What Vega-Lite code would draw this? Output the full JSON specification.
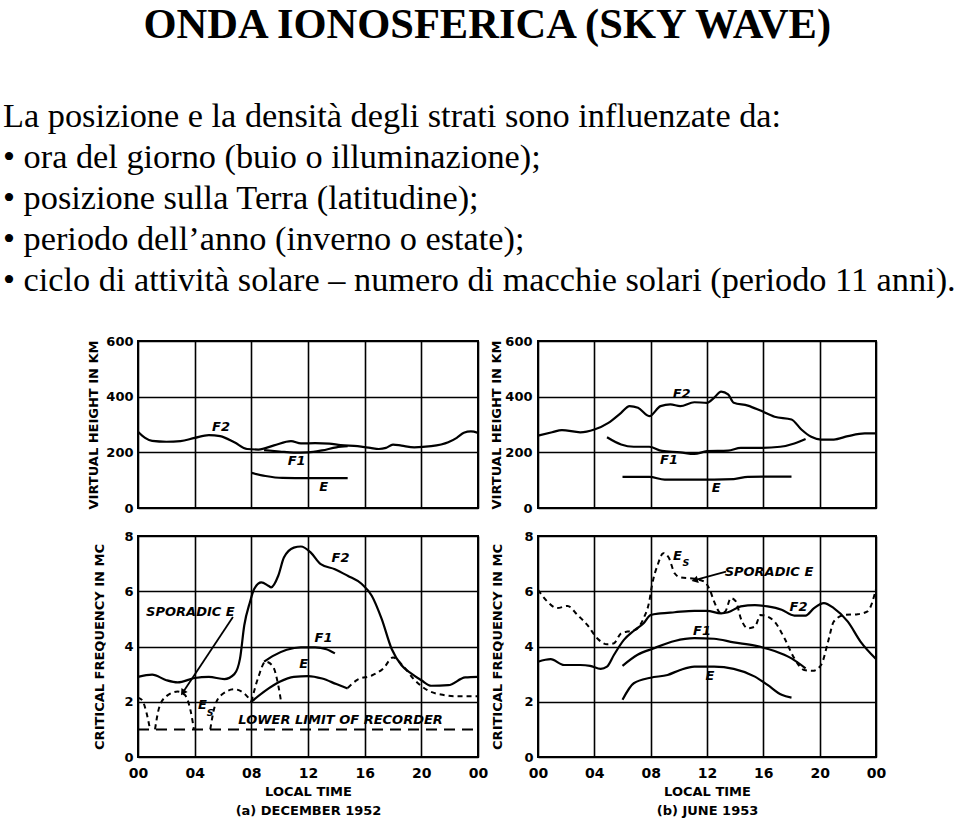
{
  "$schema": "https://vega.github.io/schema/vega-lite/v6.json",
  "padding": {"left": 2, "top": 4, "right": 0, "bottom": 0},
  "background": "white",
  "title": {"text": "ONDA IONOSFERICA (SKY WAVE)", "anchor": "middle", "frame": "bounds", "font": "Liberation Serif", "fontSize": 42.5, "fontWeight": "bold", "color": "black", "offset": 52, "dx": 8},
  "columns": 2,
  "spacing": {"row": 28, "column": 60},
  "bounds": "flush",
  "concat": [
    {
      "width": 340, "height": 167,
      "title": {"text": ["La posizione e la densità degli strati sono influenzate da:", "• ora del giorno (buio o illuminazione);", "• posizione sulla Terra (latitudine);", "• periodo dell’anno (inverno o estate);", "• ciclo di attività solare – numero di macchie solari (periodo 11 anni)."], "anchor": "start", "frame": "group", "dx": -135, "font": "Liberation Serif", "fontSize": 34.3, "fontWeight": "normal", "lineHeight": 41, "offset": 37, "color": "black"},
      "encoding": {
        "x": {"field": "h", "type": "quantitative", "scale": {"domain": [0, 24], "nice": false}, "axis": {"values": [0, 4, 8, 12, 16, 20, 24], "labels": false, "title": null}},
        "y": {"field": "v", "type": "quantitative", "scale": {"domain": [0, 600], "nice": false}, "axis": {"values": [0, 200, 400, 600], "title": "VIRTUAL HEIGHT IN KM", "labelPadding": 5, "titlePadding": 5}}
      },
      "layer": [
        {"data": {"name": "tl"}, "mark": {"type": "line", "interpolate": "monotone", "color": "black", "strokeWidth": 2.2}, "encoding": {"detail": {"field": "s"}}},
        {"data": {"name": "tlLab"}, "mark": {"type": "text", "font": "DejaVu Sans", "fontStyle": "italic", "fontWeight": "bold", "fontSize": 13, "color": "black", "align": "center", "baseline": "middle"}, "encoding": {"text": {"field": "t"}}}
      ]
    },
    {
      "width": 338, "height": 167,
      "encoding": {
        "x": {"field": "h", "type": "quantitative", "scale": {"domain": [0, 24], "nice": false}, "axis": {"values": [0, 4, 8, 12, 16, 20, 24], "labels": false, "title": null}},
        "y": {"field": "v", "type": "quantitative", "scale": {"domain": [0, 600], "nice": false}, "axis": {"values": [0, 200, 400, 600], "title": "VIRTUAL HEIGHT IN KM", "labelPadding": 6, "titlePadding": 1}}
      },
      "layer": [
        {"data": {"name": "tr"}, "mark": {"type": "line", "interpolate": "monotone", "color": "black", "strokeWidth": 2.2}, "encoding": {"detail": {"field": "s"}}},
        {"data": {"name": "trLab"}, "mark": {"type": "text", "font": "DejaVu Sans", "fontStyle": "italic", "fontWeight": "bold", "fontSize": 13, "color": "black", "align": "center", "baseline": "middle"}, "encoding": {"text": {"field": "t"}}}
      ]
    },
    {
      "width": 340, "height": 221,
      "encoding": {
        "x": {"field": "h", "type": "quantitative", "scale": {"domain": [0, 24], "nice": false}, "axis": {"values": [0, 4, 8, 12, 16, 20, 24], "labelExpr": "datum.value == 24 ? '00' : (datum.value < 10 ? '0' + datum.value : '' + datum.value)", "labelFontSize": 14, "labelPadding": 9, "title": ["LOCAL TIME", "(a) DECEMBER 1952"], "titleFontSize": 13, "titlePadding": 5, "titleLineHeight": 19}},
        "y": {"field": "v", "type": "quantitative", "scale": {"domain": [0, 8], "nice": false}, "axis": {"values": [0, 2, 4, 6, 8], "title": "CRITICAL FREQUENCY IN MC", "labelPadding": 5, "titlePadding": 17}}
      },
      "layer": [
        {"data": {"name": "bl"}, "transform": [{"filter": "datum.s != 'Es' && datum.s != 'LL'"}], "mark": {"type": "line", "interpolate": "monotone", "color": "black", "strokeWidth": 2.2}, "encoding": {"detail": {"field": "s"}}},
        {"data": {"name": "bl"}, "transform": [{"filter": "datum.s == 'Es'"}], "mark": {"type": "line", "interpolate": "monotone", "color": "black", "strokeWidth": 2, "strokeDash": [5, 4]}, "encoding": {"detail": {"field": "g"}}},
        {"data": {"name": "bl"}, "transform": [{"filter": "datum.s == 'LL'"}], "mark": {"type": "line", "color": "black", "strokeWidth": 2, "strokeDash": [11, 7]}, "encoding": {"detail": {"field": "s"}}},
        {"data": {"name": "blLab"}, "mark": {"type": "text", "font": "DejaVu Sans", "fontStyle": "italic", "fontWeight": "bold", "fontSize": 13, "color": "black", "align": "center", "baseline": "middle"}, "encoding": {"text": {"field": "t"}}},
        {"data": {"name": "blSub"}, "mark": {"type": "text", "font": "DejaVu Sans", "fontStyle": "italic", "fontWeight": "bold", "fontSize": 9.5, "color": "black", "align": "center", "baseline": "middle"}, "encoding": {"text": {"field": "t"}}},
        {"data": {"name": "blArrow"}, "mark": {"type": "rule", "color": "black", "strokeWidth": 1.8}, "encoding": {"x2": {"field": "h2"}, "y2": {"field": "v2"}}},
        {"data": {"name": "blArrow"}, "mark": {"type": "point", "shape": "triangle", "filled": true, "color": "black", "opacity": 1, "size": 55, "angle": 213.6}, "encoding": {"x": {"field": "h2", "type": "quantitative"}, "y": {"field": "v2", "type": "quantitative"}}}
      ]
    },
    {
      "width": 338, "height": 221,
      "encoding": {
        "x": {"field": "h", "type": "quantitative", "scale": {"domain": [0, 24], "nice": false}, "axis": {"values": [0, 4, 8, 12, 16, 20, 24], "labelExpr": "datum.value == 24 ? '00' : (datum.value < 10 ? '0' + datum.value : '' + datum.value)", "labelFontSize": 14, "labelPadding": 9, "title": ["LOCAL TIME", "(b) JUNE 1953"], "titleFontSize": 13, "titlePadding": 5, "titleLineHeight": 19}},
        "y": {"field": "v", "type": "quantitative", "scale": {"domain": [0, 8], "nice": false}, "axis": {"values": [0, 2, 4, 6, 8], "title": "CRITICAL FREQUENCY IN MC", "labelPadding": 5, "titlePadding": 19}}
      },
      "layer": [
        {"data": {"name": "br"}, "transform": [{"filter": "datum.s != 'Es'"}], "mark": {"type": "line", "interpolate": "monotone", "color": "black", "strokeWidth": 2.2}, "encoding": {"detail": {"field": "s"}}},
        {"data": {"name": "br"}, "transform": [{"filter": "datum.s == 'Es'"}], "mark": {"type": "line", "interpolate": "monotone", "color": "black", "strokeWidth": 2, "strokeDash": [5, 4]}, "encoding": {"detail": {"field": "s"}}},
        {"data": {"name": "brLab"}, "mark": {"type": "text", "font": "DejaVu Sans", "fontStyle": "italic", "fontWeight": "bold", "fontSize": 13, "color": "black", "align": "center", "baseline": "middle"}, "encoding": {"text": {"field": "t"}}},
        {"data": {"name": "brSub"}, "mark": {"type": "text", "font": "DejaVu Sans", "fontStyle": "italic", "fontWeight": "bold", "fontSize": 9.5, "color": "black", "align": "center", "baseline": "middle"}, "encoding": {"text": {"field": "t"}}},
        {"data": {"name": "brArrow"}, "mark": {"type": "rule", "color": "black", "strokeWidth": 1.8}, "encoding": {"x2": {"field": "h2"}, "y2": {"field": "v2"}}},
        {"data": {"name": "brArrow"}, "mark": {"type": "point", "shape": "triangle", "filled": true, "color": "black", "opacity": 1, "size": 55, "angle": 254.7}, "encoding": {"x": {"field": "h2", "type": "quantitative"}, "y": {"field": "v2", "type": "quantitative"}}}
      ]
    }
  ],
  "config": {
    "view": {"stroke": "black", "strokeWidth": 2},
    "axis": {"grid": true, "gridColor": "black", "gridOpacity": 1, "gridWidth": 1.6, "domain": false, "ticks": false, "labelFont": "DejaVu Sans", "labelFontWeight": "bold", "labelFontSize": 13, "labelColor": "black", "titleFont": "DejaVu Sans", "titleFontWeight": "bold", "titleFontSize": 13, "titleColor": "black", "labelOverlap": false, "labelFlush": false}
  },
  "datasets": {
    "tl": [
      {"s": "F2", "h": 0, "v": 274}, {"s": "F2", "h": 0.5, "v": 252}, {"s": "F2", "h": 1, "v": 241}, {"s": "F2", "h": 2, "v": 238}, {"s": "F2", "h": 3, "v": 240}, {"s": "F2", "h": 4, "v": 252}, {"s": "F2", "h": 5, "v": 262}, {"s": "F2", "h": 5.8, "v": 258}, {"s": "F2", "h": 6.8, "v": 236}, {"s": "F2", "h": 7.7, "v": 212}, {"s": "F2", "h": 8.5, "v": 210}, {"s": "F2", "h": 9.6, "v": 225}, {"s": "F2", "h": 10.8, "v": 240}, {"s": "F2", "h": 11.5, "v": 232}, {"s": "F2", "h": 12.5, "v": 233}, {"s": "F2", "h": 13.5, "v": 231}, {"s": "F2", "h": 14.3, "v": 226}, {"s": "F2", "h": 15.5, "v": 222}, {"s": "F2", "h": 16.4, "v": 216}, {"s": "F2", "h": 17, "v": 212}, {"s": "F2", "h": 17.5, "v": 216}, {"s": "F2", "h": 18, "v": 228}, {"s": "F2", "h": 18.6, "v": 224}, {"s": "F2", "h": 19.5, "v": 218}, {"s": "F2", "h": 20.7, "v": 222}, {"s": "F2", "h": 21.9, "v": 236}, {"s": "F2", "h": 22.5, "v": 252}, {"s": "F2", "h": 23, "v": 270}, {"s": "F2", "h": 23.5, "v": 275}, {"s": "F2", "h": 24, "v": 270},
      {"s": "F1", "h": 8.9, "v": 208}, {"s": "F1", "h": 10, "v": 203}, {"s": "F1", "h": 11, "v": 199}, {"s": "F1", "h": 12, "v": 200}, {"s": "F1", "h": 13, "v": 207}, {"s": "F1", "h": 14, "v": 218}, {"s": "F1", "h": 14.8, "v": 222},
      {"s": "E", "h": 8, "v": 126}, {"s": "E", "h": 9, "v": 115}, {"s": "E", "h": 10.2, "v": 108}, {"s": "E", "h": 12, "v": 107}, {"s": "E", "h": 14.8, "v": 107}
    ],
    "tlLab": [
      {"t": "F2", "h": 5.86, "v": 291}, {"t": "F1", "h": 11.2, "v": 169}, {"t": "E", "h": 13.1, "v": 75}
    ],
    "tr": [
      {"s": "F2", "h": 0, "v": 260}, {"s": "F2", "h": 1, "v": 272}, {"s": "F2", "h": 1.7, "v": 280}, {"s": "F2", "h": 3, "v": 272}, {"s": "F2", "h": 4, "v": 282}, {"s": "F2", "h": 5, "v": 306}, {"s": "F2", "h": 5.9, "v": 342}, {"s": "F2", "h": 6.5, "v": 366}, {"s": "F2", "h": 7.1, "v": 360}, {"s": "F2", "h": 7.9, "v": 330}, {"s": "F2", "h": 8.7, "v": 366}, {"s": "F2", "h": 9.4, "v": 372}, {"s": "F2", "h": 10.1, "v": 366}, {"s": "F2", "h": 11.1, "v": 380}, {"s": "F2", "h": 12, "v": 378}, {"s": "F2", "h": 12.5, "v": 396}, {"s": "F2", "h": 13, "v": 418}, {"s": "F2", "h": 13.5, "v": 408}, {"s": "F2", "h": 13.9, "v": 378}, {"s": "F2", "h": 14.9, "v": 368}, {"s": "F2", "h": 15.8, "v": 350}, {"s": "F2", "h": 16.8, "v": 328}, {"s": "F2", "h": 18, "v": 318}, {"s": "F2", "h": 18.7, "v": 282}, {"s": "F2", "h": 19.4, "v": 256}, {"s": "F2", "h": 20.1, "v": 246}, {"s": "F2", "h": 21, "v": 246}, {"s": "F2", "h": 22, "v": 258}, {"s": "F2", "h": 23.2, "v": 268}, {"s": "F2", "h": 24, "v": 268},
      {"s": "F1", "h": 4.9, "v": 254}, {"s": "F1", "h": 5.9, "v": 228}, {"s": "F1", "h": 6.8, "v": 220}, {"s": "F1", "h": 7.9, "v": 220}, {"s": "F1", "h": 8.8, "v": 205}, {"s": "F1", "h": 10.1, "v": 200}, {"s": "F1", "h": 11.1, "v": 194}, {"s": "F1", "h": 12, "v": 204}, {"s": "F1", "h": 13.5, "v": 206}, {"s": "F1", "h": 14.4, "v": 216}, {"s": "F1", "h": 15.8, "v": 216}, {"s": "F1", "h": 17.2, "v": 220}, {"s": "F1", "h": 18.2, "v": 232}, {"s": "F1", "h": 19, "v": 248},
      {"s": "E", "h": 6, "v": 112}, {"s": "E", "h": 7.9, "v": 112}, {"s": "E", "h": 9, "v": 102}, {"s": "E", "h": 11.1, "v": 102}, {"s": "E", "h": 13.9, "v": 104}, {"s": "E", "h": 14.9, "v": 112}, {"s": "E", "h": 18, "v": 113}
    ],
    "trLab": [
      {"t": "F2", "h": 10.2, "v": 410}, {"t": "F1", "h": 9.3, "v": 172}, {"t": "E", "h": 12.65, "v": 72}
    ],
    "bl": [
      {"s": "F2", "h": 0, "v": 2.9}, {"s": "F2", "h": 1, "v": 2.98}, {"s": "F2", "h": 2, "v": 2.78}, {"s": "F2", "h": 2.8, "v": 2.7}, {"s": "F2", "h": 4, "v": 2.86}, {"s": "F2", "h": 5, "v": 2.9}, {"s": "F2", "h": 6.1, "v": 2.82}, {"s": "F2", "h": 6.8, "v": 3.0}, {"s": "F2", "h": 7.2, "v": 3.56}, {"s": "F2", "h": 7.5, "v": 4.76}, {"s": "F2", "h": 7.9, "v": 5.6}, {"s": "F2", "h": 8.2, "v": 6.08}, {"s": "F2", "h": 8.7, "v": 6.32}, {"s": "F2", "h": 9.2, "v": 6.2}, {"s": "F2", "h": 9.4, "v": 6.14}, {"s": "F2", "h": 9.9, "v": 6.56}, {"s": "F2", "h": 10.3, "v": 7.22}, {"s": "F2", "h": 11, "v": 7.58}, {"s": "F2", "h": 11.5, "v": 7.62}, {"s": "F2", "h": 12.2, "v": 7.4}, {"s": "F2", "h": 12.9, "v": 6.98}, {"s": "F2", "h": 13.9, "v": 6.8}, {"s": "F2", "h": 14.8, "v": 6.56}, {"s": "F2", "h": 15.8, "v": 6.26}, {"s": "F2", "h": 16.5, "v": 5.84}, {"s": "F2", "h": 17.2, "v": 5.0}, {"s": "F2", "h": 17.9, "v": 3.92}, {"s": "F2", "h": 18.6, "v": 3.32}, {"s": "F2", "h": 19.3, "v": 3.02}, {"s": "F2", "h": 20, "v": 2.78}, {"s": "F2", "h": 20.7, "v": 2.58}, {"s": "F2", "h": 21.9, "v": 2.6}, {"s": "F2", "h": 23.1, "v": 2.88}, {"s": "F2", "h": 24, "v": 2.9},
      {"s": "F1", "h": 8.9, "v": 3.45}, {"s": "F1", "h": 9.5, "v": 3.65}, {"s": "F1", "h": 10.5, "v": 3.88}, {"s": "F1", "h": 11.5, "v": 3.97}, {"s": "F1", "h": 12.5, "v": 3.97}, {"s": "F1", "h": 13.3, "v": 3.9}, {"s": "F1", "h": 13.9, "v": 3.75},
      {"s": "E", "h": 8, "v": 2.0}, {"s": "E", "h": 9, "v": 2.4}, {"s": "E", "h": 10, "v": 2.72}, {"s": "E", "h": 11, "v": 2.9}, {"s": "E", "h": 12, "v": 2.93}, {"s": "E", "h": 13, "v": 2.84}, {"s": "E", "h": 14, "v": 2.64}, {"s": "E", "h": 14.8, "v": 2.48},
      {"s": "Es", "g": 1, "h": 0, "v": 2.15}, {"s": "Es", "g": 1, "h": 0.3, "v": 2.05}, {"s": "Es", "g": 1, "h": 0.6, "v": 1.6}, {"s": "Es", "g": 1, "h": 0.85, "v": 1.0},
      {"s": "Es", "g": 2, "h": 1.2, "v": 1.0}, {"s": "Es", "g": 2, "h": 1.5, "v": 1.8}, {"s": "Es", "g": 2, "h": 2.0, "v": 2.2}, {"s": "Es", "g": 2, "h": 2.8, "v": 2.37}, {"s": "Es", "g": 2, "h": 3.3, "v": 2.25}, {"s": "Es", "g": 2, "h": 3.7, "v": 1.7}, {"s": "Es", "g": 2, "h": 3.95, "v": 1.0},
      {"s": "Es", "g": 3, "h": 5.1, "v": 1.0}, {"s": "Es", "g": 3, "h": 5.4, "v": 1.8}, {"s": "Es", "g": 3, "h": 5.9, "v": 2.25}, {"s": "Es", "g": 3, "h": 6.8, "v": 2.45}, {"s": "Es", "g": 3, "h": 7.5, "v": 2.3}, {"s": "Es", "g": 3, "h": 8.0, "v": 2.0},
      {"s": "Es", "g": 4, "h": 8.0, "v": 2.0}, {"s": "Es", "g": 4, "h": 8.5, "v": 2.9}, {"s": "Es", "g": 4, "h": 9.0, "v": 3.45}, {"s": "Es", "g": 4, "h": 9.5, "v": 3.3}, {"s": "Es", "g": 4, "h": 9.9, "v": 2.6}, {"s": "Es", "g": 4, "h": 10.1, "v": 2.0},
      {"s": "Es", "g": 5, "h": 14.8, "v": 2.5}, {"s": "Es", "g": 5, "h": 15.5, "v": 2.8}, {"s": "Es", "g": 5, "h": 16.5, "v": 2.95}, {"s": "Es", "g": 5, "h": 17.3, "v": 3.2}, {"s": "Es", "g": 5, "h": 18.0, "v": 3.6}, {"s": "Es", "g": 5, "h": 18.7, "v": 3.3}, {"s": "Es", "g": 5, "h": 19.5, "v": 2.8}, {"s": "Es", "g": 5, "h": 20.5, "v": 2.4}, {"s": "Es", "g": 5, "h": 21.5, "v": 2.25}, {"s": "Es", "g": 5, "h": 22.5, "v": 2.2}, {"s": "Es", "g": 5, "h": 24, "v": 2.2},
      {"s": "LL", "h": 0, "v": 1.0}, {"s": "LL", "h": 24, "v": 1.0}
    ],
    "blLab": [
      {"t": "F2", "h": 14.3, "v": 7.2}, {"t": "F1", "h": 13.1, "v": 4.3}, {"t": "E", "h": 11.7, "v": 3.37}, {"t": "SPORADIC E", "h": 3.7, "v": 5.25}, {"t": "LOWER LIMIT OF RECORDER", "h": 14.3, "v": 1.34}, {"t": "E", "h": 4.55, "v": 1.88}
    ],
    "blSub": [
      {"t": "S", "h": 5.1, "v": 1.6}
    ],
    "blArrow": [
      {"h": 6.7, "v": 5.07, "h2": 3.2, "v2": 2.36}
    ],
    "br": [
      {"s": "F2", "h": 0, "v": 3.45}, {"s": "F2", "h": 0.9, "v": 3.54}, {"s": "F2", "h": 1.85, "v": 3.33}, {"s": "F2", "h": 3.0, "v": 3.33}, {"s": "F2", "h": 3.7, "v": 3.3}, {"s": "F2", "h": 4.45, "v": 3.19}, {"s": "F2", "h": 4.9, "v": 3.27}, {"s": "F2", "h": 5.4, "v": 3.7}, {"s": "F2", "h": 6.1, "v": 4.24}, {"s": "F2", "h": 6.8, "v": 4.57}, {"s": "F2", "h": 7.5, "v": 4.84}, {"s": "F2", "h": 8.0, "v": 5.14}, {"s": "F2", "h": 8.7, "v": 5.2}, {"s": "F2", "h": 9.7, "v": 5.24}, {"s": "F2", "h": 11.1, "v": 5.29}, {"s": "F2", "h": 12, "v": 5.29}, {"s": "F2", "h": 13, "v": 5.2}, {"s": "F2", "h": 13.5, "v": 5.24}, {"s": "F2", "h": 14.4, "v": 5.45}, {"s": "F2", "h": 15.4, "v": 5.5}, {"s": "F2", "h": 16.3, "v": 5.45}, {"s": "F2", "h": 17.3, "v": 5.33}, {"s": "F2", "h": 18.2, "v": 5.12}, {"s": "F2", "h": 19, "v": 5.12}, {"s": "F2", "h": 19.6, "v": 5.39}, {"s": "F2", "h": 20.3, "v": 5.57}, {"s": "F2", "h": 21, "v": 5.39}, {"s": "F2", "h": 22, "v": 4.9}, {"s": "F2", "h": 22.9, "v": 4.18}, {"s": "F2", "h": 24, "v": 3.55},
      {"s": "F1", "h": 6, "v": 3.3}, {"s": "F1", "h": 7.07, "v": 3.7}, {"s": "F1", "h": 8.25, "v": 3.94}, {"s": "F1", "h": 9.7, "v": 4.2}, {"s": "F1", "h": 11.1, "v": 4.3}, {"s": "F1", "h": 12.5, "v": 4.28}, {"s": "F1", "h": 13.9, "v": 4.15}, {"s": "F1", "h": 15.4, "v": 4.03}, {"s": "F1", "h": 16.8, "v": 3.84}, {"s": "F1", "h": 18, "v": 3.57}, {"s": "F1", "h": 19, "v": 3.21},
      {"s": "E", "h": 6, "v": 2.07}, {"s": "E", "h": 6.8, "v": 2.67}, {"s": "E", "h": 8, "v": 2.87}, {"s": "E", "h": 9.2, "v": 2.97}, {"s": "E", "h": 10.1, "v": 3.15}, {"s": "E", "h": 11.1, "v": 3.27}, {"s": "E", "h": 12.5, "v": 3.27}, {"s": "E", "h": 13.9, "v": 3.19}, {"s": "E", "h": 15.4, "v": 2.91}, {"s": "E", "h": 16.3, "v": 2.61}, {"s": "E", "h": 17.3, "v": 2.25}, {"s": "E", "h": 18, "v": 2.15},
      {"s": "Es", "h": 0, "v": 6.05}, {"s": "Es", "h": 0.66, "v": 5.63}, {"s": "Es", "h": 1.37, "v": 5.39}, {"s": "Es", "h": 2.1, "v": 5.47}, {"s": "Es", "h": 2.8, "v": 5.14}, {"s": "Es", "h": 3.5, "v": 4.78}, {"s": "Es", "h": 4.2, "v": 4.3}, {"s": "Es", "h": 4.9, "v": 4.08}, {"s": "Es", "h": 5.4, "v": 4.12}, {"s": "Es", "h": 5.9, "v": 4.48}, {"s": "Es", "h": 6.35, "v": 4.54}, {"s": "Es", "h": 6.9, "v": 4.6}, {"s": "Es", "h": 7.5, "v": 5.02}, {"s": "Es", "h": 7.9, "v": 5.63}, {"s": "Es", "h": 8.1, "v": 6.23}, {"s": "Es", "h": 8.5, "v": 6.96}, {"s": "Es", "h": 8.9, "v": 7.38}, {"s": "Es", "h": 9.3, "v": 7.2}, {"s": "Es", "h": 9.7, "v": 6.65}, {"s": "Es", "h": 10.1, "v": 6.5}, {"s": "Es", "h": 11.1, "v": 6.45}, {"s": "Es", "h": 11.8, "v": 6.35}, {"s": "Es", "h": 12.2, "v": 6.05}, {"s": "Es", "h": 12.5, "v": 5.63}, {"s": "Es", "h": 13, "v": 5.2}, {"s": "Es", "h": 13.3, "v": 5.27}, {"s": "Es", "h": 13.7, "v": 5.75}, {"s": "Es", "h": 14.05, "v": 5.63}, {"s": "Es", "h": 14.4, "v": 5.02}, {"s": "Es", "h": 14.9, "v": 4.66}, {"s": "Es", "h": 15.4, "v": 4.72}, {"s": "Es", "h": 15.8, "v": 5.14}, {"s": "Es", "h": 16.3, "v": 5.08}, {"s": "Es", "h": 16.8, "v": 4.9}, {"s": "Es", "h": 17.5, "v": 4.3}, {"s": "Es", "h": 18.2, "v": 3.57}, {"s": "Es", "h": 18.9, "v": 3.15}, {"s": "Es", "h": 19.5, "v": 3.12}, {"s": "Es", "h": 20.1, "v": 3.33}, {"s": "Es", "h": 20.6, "v": 4.18}, {"s": "Es", "h": 21, "v": 4.9}, {"s": "Es", "h": 21.75, "v": 5.14}, {"s": "Es", "h": 22.7, "v": 5.17}, {"s": "Es", "h": 23.4, "v": 5.27}, {"s": "Es", "h": 24, "v": 6.07}
    ],
    "brLab": [
      {"t": "F2", "h": 18.5, "v": 5.43}, {"t": "F1", "h": 11.65, "v": 4.56}, {"t": "E", "h": 12.2, "v": 2.93}, {"t": "SPORADIC E", "h": 16.4, "v": 6.7}, {"t": "E", "h": 9.9, "v": 7.28}
    ],
    "brSub": [
      {"t": "S", "h": 10.5, "v": 7.02}
    ],
    "brArrow": [
      {"h": 13.35, "v": 6.71, "h2": 11.2, "v2": 6.41}
    ]
  }
}
